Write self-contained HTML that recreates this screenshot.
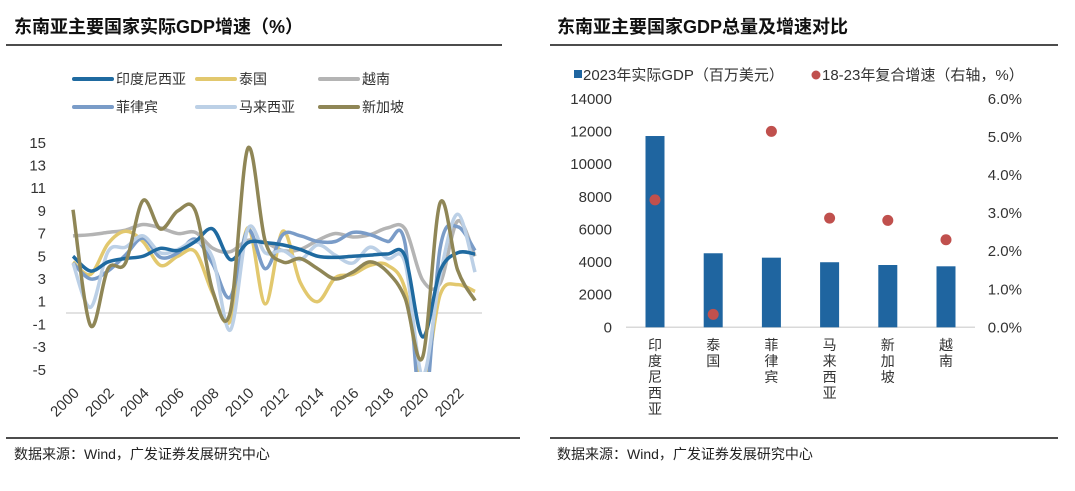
<!DOCTYPE html>
<html><head><meta charset="utf-8">
<style>
body{margin:0;background:#fff;width:1075px;height:486px;overflow:hidden;font-family:"Liberation Sans","Noto Sans CJK SC",sans-serif;}
svg text{font-family:"Liberation Sans","Noto Sans CJK SC",sans-serif;}
</style></head><body>
<svg id="s" width="1075" height="486" viewBox="0 0 1075 486" xmlns="http://www.w3.org/2000/svg">
<defs><clipPath id="cp"><rect x="60" y="125" width="430" height="247"/></clipPath></defs>
<text x="14" y="33" font-size="18" font-weight="bold" fill="#111">东南亚主要国家实际GDP增速（%）</text>
<line x1="6" y1="45" x2="502" y2="45" stroke="#111" stroke-width="1.5"/>
<text x="557" y="33" font-size="18" font-weight="bold" fill="#111">东南亚主要国家GDP总量及增速对比</text>
<line x1="550" y1="45" x2="1058" y2="45" stroke="#111" stroke-width="1.5"/>
<line x1="6" y1="438" x2="520" y2="438" stroke="#111" stroke-width="1.5"/>
<line x1="550" y1="438" x2="1058" y2="438" stroke="#111" stroke-width="1.5"/>
<text x="14" y="459" font-size="14" fill="#222">数据来源：Wind，广发证券发展研究中心</text>
<text x="557" y="459" font-size="14" fill="#222">数据来源：Wind，广发证券发展研究中心</text>
<g id="left"></g><g id="right"></g>
</svg>
<script>
const years=[2000,2001,2002,2003,2004,2005,2006,2007,2008,2009,2010,2011,2012,2013,2014,2015,2016,2017,2018,2019,2020,2021,2022,2023];
const indonesia=[5.0,3.7,4.5,4.8,5.0,5.7,5.5,6.3,7.4,4.7,6.2,6.2,6.0,5.6,5.0,4.9,5.0,5.1,5.2,5.0,-2.1,3.7,5.3,5.2];
const thailand=[4.5,3.4,6.1,7.2,6.3,4.2,5.0,5.4,1.7,-0.7,7.5,0.8,7.2,2.7,1.0,3.1,3.4,4.2,4.2,2.1,-6.1,1.6,2.5,1.9];
const vietnam=[6.8,6.9,7.1,7.3,7.8,7.5,7.0,7.1,5.7,5.4,6.4,6.2,5.5,5.6,6.4,7.0,6.7,6.9,7.5,7.4,2.9,2.6,8.1,5.0];
const philippines=[4.4,3.0,3.7,5.1,6.6,4.9,5.3,6.5,4.3,1.4,7.3,3.9,6.9,6.8,6.3,6.3,7.1,6.9,6.3,6.1,-9.5,5.7,7.6,5.5];
const malaysia=[4.4,0.5,5.4,5.8,6.8,5.3,5.6,6.3,4.8,-1.5,7.4,5.3,5.5,4.7,6.0,5.1,4.4,5.8,4.8,4.4,-5.5,3.3,8.7,3.6];
const singapore=[9.1,-1.1,3.9,4.4,9.9,7.4,9.0,9.0,1.9,0.1,14.5,6.3,4.5,4.8,3.9,3.0,3.6,4.5,3.6,1.3,-3.9,9.7,3.8,1.1];
const yTicks=[15,13,11,9,7,5,3,1,-1,-3,-5];
const xTickYears=[2000,2002,2004,2006,2008,2010,2012,2014,2016,2018,2020,2022];
const countries=["印度尼西亚","泰国","菲律宾","马来西亚","新加坡","越南"];
const gdp2023=[11730,4540,4270,3990,3820,3740];
const cagr=[3.35,0.34,5.15,2.87,2.81,2.30];
const leftTicks=[0,2000,4000,6000,8000,10000,12000,14000];
const rightTicks=[0,1,2,3,4,5,6];

const NS="http://www.w3.org/2000/svg";
function mk(tag,attrs,parent){const e=document.createElementNS(NS,tag);for(const k in attrs)e.setAttribute(k,attrs[k]);parent.appendChild(e);return e;}
const L=document.getElementById('left'),R=document.getElementById('right');
const lx=y=>73+(y-2000)*17.48;
const ly=v=>313-v*11.35;
yTicks.forEach(t=>{const e=mk('text',{x:46,y:ly(t)+5,'font-size':15,fill:'#333','text-anchor':'end'},L);e.textContent=t;

});
xTickYears.forEach(t=>{const x=lx(t),y=394;const e=mk('text',{x:x+7,y:y,'font-size':15,fill:'#333','text-anchor':'end',transform:`rotate(-45 ${x+7} ${y})`},L);e.textContent=t;

});
const zl=mk('line',{x1:66,x2:482,y1:ly(0),y2:ly(0),stroke:'#d9d9d9','stroke-width':1.5},L);


function smooth(pts){let d=`M${pts[0][0]},${pts[0][1]}`;for(let i=0;i<pts.length-1;i++){const p0=pts[Math.max(0,i-1)],p1=pts[i],p2=pts[i+1],p3=pts[Math.min(pts.length-1,i+2)];const c1=[p1[0]+(p2[0]-p0[0])/6,p1[1]+(p2[1]-p0[1])/6],c2=[p2[0]-(p3[0]-p1[0])/6,p2[1]-(p3[1]-p1[1])/6];d+=` C${c1[0]},${c1[1]} ${c2[0]},${c2[1]} ${p2[0]},${p2[1]}`;}return d;}
const series=[["vietnam",vietnam,"#b4b4b4"],["thailand",thailand,"#e2c86e"],["philippines",philippines,"#7a9cc8"],["malaysia",malaysia,"#bcd0e6"],["indonesia",indonesia,"#1f6aa0"],["singapore",singapore,"#8f8656"]];
const g=mk('g',{'clip-path':'url(#cp)'},L);
series.forEach(s=>{const p=mk('path',{d:smooth(years.map((y,i)=>[lx(y),ly(s[1][i])])),fill:'none',stroke:s[2],'stroke-width':3.5,'stroke-linejoin':'round'},g);

});
const legOrder=[["indonesia","#1f6aa0","印度尼西亚"],["thailand","#e2c86e","泰国"],["vietnam","#b4b4b4","越南"],["philippines","#7a9cc8","菲律宾"],["malaysia","#bcd0e6","马来西亚"],["singapore","#8f8656","新加坡"]];
legOrder.forEach((s,i)=>{const x=74+(i%3)*123,y=i<3?79:107;
const ln=mk('line',{x1:x,x2:x+38,y1:y,y2:y,stroke:s[1],'stroke-width':4,'stroke-linecap':'round'},L);


const t=mk('text',{x:x+42,y:y+5,'font-size':14,fill:'#333'},L);t.textContent=s[2];

});
const ry=v=>327.3-v/14000*228.3, ry2=v=>327.3-v/6*228.3, cx=i=>655+i*58.2;
leftTicks.forEach(t=>{const e=mk('text',{x:612,y:ry(t)+5,'font-size':15,fill:'#333','text-anchor':'end'},R);e.textContent=t;

});
rightTicks.forEach(t=>{const e=mk('text',{x:1022,y:ry2(t)+5,'font-size':15,fill:'#333','text-anchor':'end'},R);e.textContent=t.toFixed(1)+'%';

});
const ax=mk('line',{x1:626,x2:975,y1:327.3,y2:327.3,stroke:'#d9d9d9','stroke-width':1.5},R);


countries.forEach((c,i)=>{const b=mk('rect',{x:cx(i)-9.5,y:ry(gdp2023[i]),width:19,height:327.3-ry(gdp2023[i]),fill:'#1f65a0'},R);


const d=mk('circle',{cx:cx(i),cy:ry2(cagr[i]),r:5.5,fill:'#c0504d'},R);


[...c].forEach((ch,k)=>{const t=mk('text',{x:cx(i),y:350+k*16,'font-size':14,fill:'#333','text-anchor':'middle'},R);t.textContent=ch;

});});
const lg1=mk('rect',{x:574,y:70,width:8,height:8,fill:'#1f65a0'},R);


const lt1=mk('text',{x:583,y:80,'font-size':15,fill:'#333'},R);lt1.textContent='2023年实际GDP（百万美元）';


const lg2=mk('circle',{cx:816,cy:75,r:4.5,fill:'#c0504d'},R);


const lt2=mk('text',{x:822,y:80,'font-size':15,fill:'#333'},R);lt2.textContent='18-23年复合增速（右轴，%）';


</script>
</body></html>
